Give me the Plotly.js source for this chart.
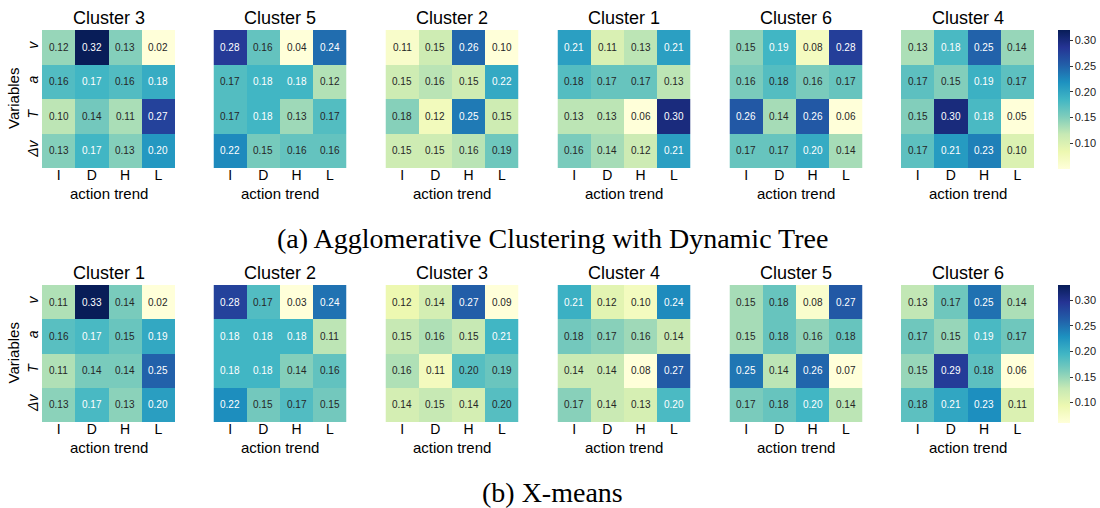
<!DOCTYPE html>
<html><head><meta charset="utf-8">
<script src="https://cdn.plot.ly/plotly-3.0.1.min.js"></script>
<style>html,body{margin:0;padding:0;background:#fff}#chart{width:1100px;height:508px}</style>
</head><body><div id="chart"></div>
<script>
// ---- data ----
const actionTrend = ['I', 'D', 'H', 'L'];
const variables = ['v', 'a', 'T', 'Δv'];
const variableLabels = ['<i>v</i>', '<i>a</i>', '<i>T</i>', '<i>Δv</i>'];
const colorbarTicks = [0.10, 0.15, 0.20, 0.25, 0.30];

const aggTitles = ['Cluster 3', 'Cluster 5', 'Cluster 2', 'Cluster 1', 'Cluster 6', 'Cluster 4'];
const agg_c3 = [[0.12,0.32,0.13,0.02],[0.16,0.17,0.16,0.18],[0.10,0.14,0.11,0.27],[0.13,0.17,0.13,0.20]];
const agg_c5 = [[0.28,0.16,0.04,0.24],[0.17,0.18,0.18,0.12],[0.17,0.18,0.13,0.17],[0.22,0.15,0.16,0.16]];
const agg_c2 = [[0.11,0.15,0.26,0.10],[0.15,0.16,0.15,0.22],[0.18,0.12,0.25,0.15],[0.15,0.15,0.16,0.19]];
const agg_c1 = [[0.21,0.11,0.13,0.21],[0.18,0.17,0.17,0.13],[0.13,0.13,0.06,0.30],[0.16,0.14,0.12,0.21]];
const agg_c6 = [[0.15,0.19,0.08,0.28],[0.16,0.18,0.16,0.17],[0.26,0.14,0.26,0.06],[0.17,0.17,0.20,0.14]];
const agg_c4 = [[0.13,0.18,0.25,0.14],[0.17,0.15,0.19,0.17],[0.15,0.30,0.18,0.05],[0.17,0.21,0.23,0.10]];

const xmTitles = ['Cluster 1', 'Cluster 2', 'Cluster 3', 'Cluster 4', 'Cluster 5', 'Cluster 6'];
const xm_c1 = [[0.11,0.33,0.14,0.02],[0.16,0.17,0.15,0.19],[0.11,0.14,0.14,0.25],[0.13,0.17,0.13,0.20]];
const xm_c2 = [[0.28,0.17,0.03,0.24],[0.18,0.18,0.18,0.11],[0.18,0.18,0.14,0.16],[0.22,0.15,0.17,0.15]];
const xm_c3 = [[0.12,0.14,0.27,0.09],[0.15,0.16,0.15,0.21],[0.16,0.11,0.20,0.19],[0.14,0.15,0.14,0.20]];
const xm_c4 = [[0.21,0.12,0.10,0.24],[0.18,0.17,0.16,0.14],[0.14,0.14,0.08,0.27],[0.17,0.14,0.13,0.20]];
const xm_c5 = [[0.15,0.18,0.08,0.27],[0.15,0.18,0.16,0.18],[0.25,0.14,0.26,0.07],[0.17,0.18,0.20,0.14]];
const xm_c6 = [[0.13,0.17,0.25,0.14],[0.17,0.15,0.19,0.17],[0.15,0.29,0.18,0.06],[0.18,0.21,0.23,0.11]];

const captionA = '(a) Agglomerative Clustering with Dynamic Tree';
const captionB = '(b) X-means';
const xTitle = 'action trend';
const yTitle = 'Variables';

// ---- styling / layout ----
const W = 1100, H = 508;
const FONT = 'Liberation Sans, Arial, sans-serif';
const ylgnbu = ['#ffffd9','#edf8b1','#c7e9b4','#7fcdbb','#41b6c4','#1d91c0','#225ea8','#253494','#081d58'];
const colorscale = ylgnbu.map((c, i) => [i / (ylgnbu.length - 1), c]);
function hex2rgb(h) { return [1, 3, 5].map(i => parseInt(h.slice(i, i + 2), 16)); }
function cmap(t) {
  t = Math.max(0, Math.min(1, t));
  const n = ylgnbu.length - 1, s = t * n, i = Math.min(Math.floor(s), n - 1), f = s - i;
  const a = hex2rgb(ylgnbu[i]), b = hex2rgb(ylgnbu[i + 1]);
  return a.map((v, k) => v + (b[k] - v) * f);
}
function lum(rgb) {
  const l = rgb.map(v => { v /= 255; return v <= 0.03928 ? v / 12.92 : Math.pow((v + 0.055) / 1.055, 2.4); });
  return 0.2126 * l[0] + 0.7152 * l[1] + 0.0722 * l[2];
}

const colLeft = [42, 213.5, 385.5, 557.5, 729.5, 901];
const cellW = 133;
const rows = [
  { titles: aggTitles, mats: [agg_c3, agg_c5, agg_c2, agg_c1, agg_c6, agg_c4], top: 30, bottom: 168, caption: captionA, capY: 238 },
  { titles: xmTitles, mats: [xm_c1, xm_c2, xm_c3, xm_c4, xm_c5, xm_c6], top: 285, bottom: 422, caption: captionB, capY: 492 }
];

const px = x => x / W;
const py = y => 1 - y / H;

const data = [];
const annotations = [];
const layout = {
  width: W, height: H,
  margin: { l: 0, r: 0, t: 0, b: 0 },
  paper_bgcolor: '#fff', plot_bgcolor: '#fff',
  font: { family: FONT, color: '#000' },
  showlegend: false,
  annotations: annotations
};

let idx = 0;
rows.forEach((row, r) => {
  const rowMax = Math.max(...row.mats.map(m => Math.max(...m.flat())));
  row.mats.forEach((m, c) => {
    idx++;
    const ax = idx === 1 ? '' : String(idx);
    const zmin = Math.min(...m.flat());
    const zmax = rowMax;
    const isLast = c === row.mats.length - 1;
    const trace = {
      type: 'heatmap', z: m, x: actionTrend, y: variables,
      xaxis: 'x' + ax, yaxis: 'y' + ax,
      colorscale: colorscale, zmin: zmin, zmax: zmax,
      showscale: isLast, hoverinfo: 'z'
    };
    if (isLast) {
      trace.colorbar = {
        x: px(1058), xanchor: 'left', xref: 'paper',
        y: py((row.top + row.bottom) / 2 + 0.5), yanchor: 'middle', yref: 'paper',
        len: (row.bottom - row.top + 1) / H, lenmode: 'fraction',
        thickness: 12, thicknessmode: 'pixels',
        xpad: 0, ypad: 0, outlinewidth: 0,
        ticks: 'outside', ticklen: 3, tickwidth: 1, tickcolor: '#333',
        tickvals: colorbarTicks, ticktext: colorbarTicks.map(v => v.toFixed(2)),
        tickfont: { family: FONT, size: 11, color: '#222' }
      };
    }
    data.push(trace);
    const x0 = colLeft[c], x1 = colLeft[c] + cellW;
    layout['xaxis' + ax] = {
      domain: [px(x0), px(x1)], anchor: 'y' + ax,
      showgrid: false, zeroline: false, showline: false, ticks: '', ticklabelstandoff: -3,
      tickfont: { family: FONT, size: 14, color: '#000' }, fixedrange: true
    };
    layout['yaxis' + ax] = {
      domain: [py(row.bottom), py(row.top)], anchor: 'x' + ax,
      autorange: 'reversed', showgrid: false, zeroline: false, showline: false, ticks: '',
      showticklabels: c === 0, tickvals: variables, ticktext: variableLabels, tickangle: -90,
      tickfont: { family: FONT, size: 14, color: '#000' }, fixedrange: true
    };
    // cell annotations
    m.forEach((rowVals, ri) => rowVals.forEach((v, ci) => {
      const col = cmap((v - zmin) / (zmax - zmin));
      annotations.push({
        xref: 'x' + ax, yref: 'y' + ax, x: actionTrend[ci], y: variables[ri],
        text: v.toFixed(2), showarrow: false,
        font: { family: FONT, size: 10, color: lum(col) > 0.408 ? '#262626' : '#ffffff' }
      });
    }));
    // subplot title
    annotations.push({
      xref: 'paper', yref: 'paper', x: px((x0 + x1) / 2), y: py(row.top - 12),
      text: row.titles[c], showarrow: false, xanchor: 'center', yanchor: 'middle',
      font: { family: FONT, size: 18, color: '#000' }
    });
    // x-axis title
    annotations.push({
      xref: 'paper', yref: 'paper', x: px((x0 + x1) / 2), y: py(row.bottom + 25),
      text: xTitle, showarrow: false, xanchor: 'center', yanchor: 'middle',
      font: { family: FONT, size: 15, color: '#000' }
    });
  });
  // y-axis title
  annotations.push({
    xref: 'paper', yref: 'paper', x: px(13), y: py((row.top + row.bottom) / 2),
    text: yTitle, showarrow: false, textangle: -90, xanchor: 'center', yanchor: 'middle',
    font: { family: FONT, size: 15, color: '#000' }
  });
  // caption
  annotations.push({
    xref: 'paper', yref: 'paper', x: px(552), y: py(row.capY),
    text: row.caption, showarrow: false, xanchor: 'center', yanchor: 'middle',
    font: { family: 'Liberation Serif, Times New Roman, serif', size: 28, color: '#000' }
  });
});

Plotly.newPlot('chart', data, layout, { displayModeBar: false, staticPlot: true });
</script>
</body></html>
